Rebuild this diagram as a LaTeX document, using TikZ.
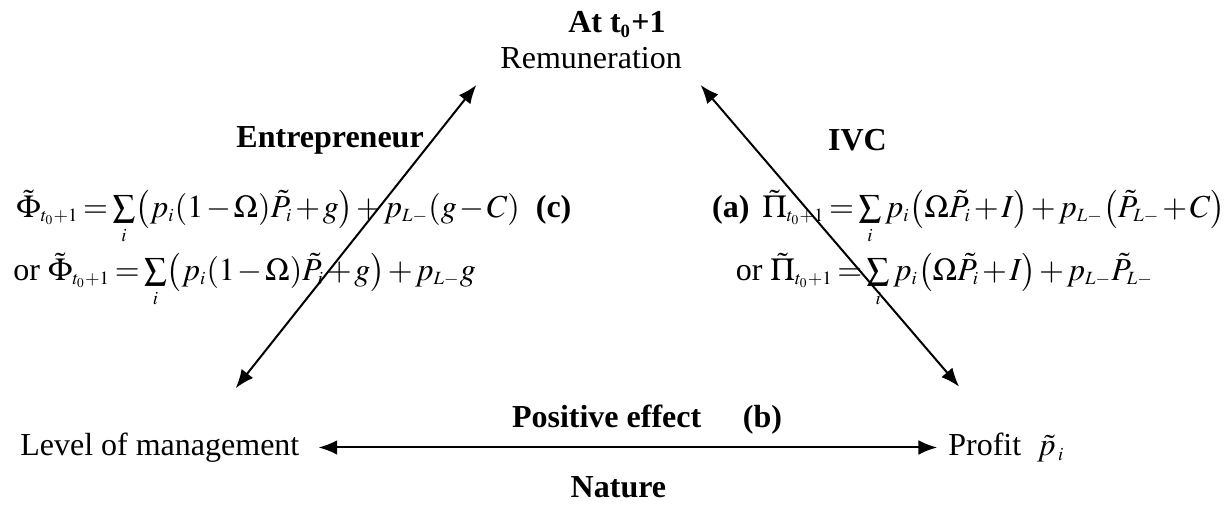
\documentclass[tikz,border=0pt,12pt]{standalone}
\usepackage{mathptmx}
\usepackage[no-math]{fontspec}
\setmainfont{Liberation Serif}
\usetikzlibrary{arrows.meta}
\DeclareMathSizes{12}{12}{7}{5}
\thickmuskip=2.5mu\relax
\medmuskip=1.5mu\relax
\newcommand{\sumi}{\mathop{\textstyle\sum}\limits_i}

\begin{document}
\begin{tikzpicture}[
    link/.style={line width=0.75pt,{Latex[length=7pt,width=5.5pt]}-{Latex[length=7pt,width=5.5pt]}},
    head/.style={font=\bfseries}]

    \useasboundingbox (0,0) rectangle (16.17,-6.655);

    \node[head] (time) at (8.13,-0.32) {At t\textsubscript{0}+1};
    \node (remun) at (7.79,-0.76) {Remuneration};
    \node[head] (entre) at (4.35,-1.85) {Entrepreneur};
    \node[head] (ivc) at (11.30,-1.85) {IVC};

    \node[anchor=base west,inner sep=0pt] (phiA) at (0.21,-2.86)
        {$\tilde{\Phi}_{t_0+1} = \sumi\bigl(p_i(1-\Omega)\tilde{P}_i + g\bigr) + p_{L-}(g-C)$\hspace{0.5em}\textbf{(c)}};
    \node[anchor=base west,inner sep=0pt] (phiB) at (0.17,-3.69)
        {or $\tilde{\Phi}_{t_0+1} = \sumi\bigl(p_i(1-\Omega)\tilde{P}_i + g\bigr) + p_{L-}g$};
    \node[anchor=base east,inner sep=0pt] (piA) at (16.15,-2.86)
        {\textbf{(a)}\hspace{0.4em}$\tilde{\Pi}_{t_0+1} = \sumi p_i\bigl(\Omega\tilde{P}_i + I\bigr) + p_{L-}\bigl(\tilde{P}_{L-} + C\bigr)$};
    \node[anchor=base west,inner sep=0pt] (piB) at (9.69,-3.69)
        {or $\tilde{\Pi}_{t_0+1} = \sumi p_i\bigl(\Omega\tilde{P}_i + I\bigr) + p_{L-}\tilde{P}_{L-}$};

    \node[anchor=base west] (effect) at (6.60,-5.64) {\textbf{Positive effect}\hspace{1.3em}\textbf{(b)}};
    \node[anchor=base west] (manage) at (0.12,-6.0) {Level of management};
    \node[anchor=base west] (profit) at (12.35,-6.0) {Profit\enspace$\tilde{p}_{\;i}$};
    \node[head,anchor=base] (nature) at (8.15,-6.56) {Nature};

    \draw[link] ([shift={(-0.17,-0.07)}]remun.south west) -- ([shift={(1.0,0.44)}]manage.north);
    \draw[link] ([shift={(0.10,-0.07)}]remun.south east) -- ([shift={(0.29,0.46)}]profit.north west);
    \draw[link,shorten <=3pt] (manage.east) -- (manage.east -| profit.west);

\end{tikzpicture}
\end{document}
